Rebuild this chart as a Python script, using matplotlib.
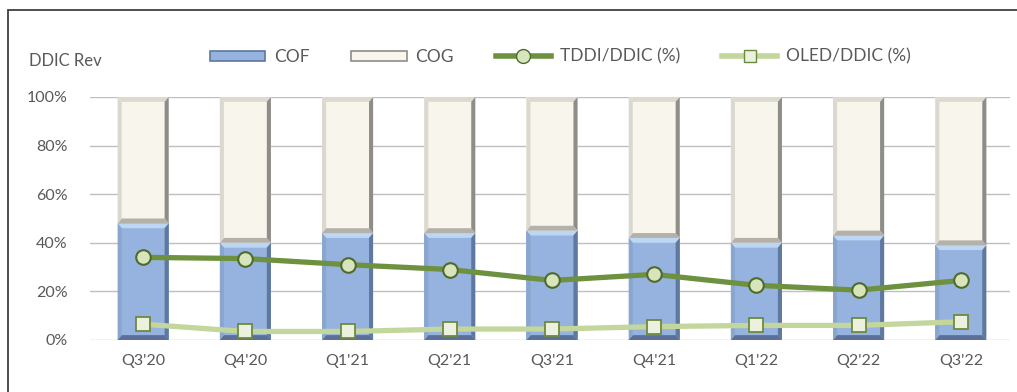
import numpy as np
import matplotlib.pyplot as plt
from matplotlib.patches import Polygon, Patch, Rectangle
from matplotlib.lines import Line2D

plt.rcParams['font.family'] = ['Lato', 'DejaVu Sans']

quarters = ["Q3'20", "Q4'20", "Q1'21", "Q2'21", "Q3'21", "Q4'21", "Q1'22", "Q2'22", "Q3'22"]
cof = [48, 40, 44, 44, 45, 42, 40, 43, 39]
cog = [100 - v for v in cof]
tddi = [34, 33.5, 31, 29, 24.5, 27, 22.5, 20.5, 24.5]
oled = [6.5, 3.5, 3.5, 4.5, 4.5, 5.5, 6, 6, 7.5]

txt = '#595959'
grid = '#BFBFBF'


def bevel(ax, rect, face, top, bottom, left, right, bx=0.04, by=2.0):
    # draw a flat bar with four shaded edges so it looks raised
    x0, y0 = rect.get_x(), rect.get_y()
    x1, y1 = x0 + rect.get_width(), y0 + rect.get_height()
    pieces = [
        ([(x0, y1), (x1, y1), (x1 - bx, y1 - by), (x0 + bx, y1 - by)], top),
        ([(x0, y0), (x1, y0), (x1 - bx, y0 + by), (x0 + bx, y0 + by)], bottom),
        ([(x0, y0), (x0, y1), (x0 + bx, y1 - by), (x0 + bx, y0 + by)], left),
        ([(x1, y0), (x1, y1), (x1 - bx, y1 - by), (x1 - bx, y0 + by)], right),
    ]
    rect.set_facecolor(face)
    for pts, c in pieces:
        ax.add_patch(Polygon(pts, closed=True, facecolor=c, edgecolor='none',
                             zorder=rect.get_zorder() + 0.1, clip_on=False))


fig = plt.figure(figsize=(10.17, 3.92), dpi=100)
ax = fig.add_axes([0.0885, 0.1327, 0.9045, 0.6199])

x = np.arange(len(quarters))
w = 0.5
b1 = ax.bar(x, cof, w, zorder=2, linewidth=0)
b2 = ax.bar(x, cog, w, bottom=cof, zorder=2, linewidth=0)
for r in b1:
    bevel(ax, r, '#95B3DE', '#BCD6F3', '#5A709A', '#8AA6CF', '#5F789F')
for r in b2:
    bevel(ax, r, '#F8F6EC', '#DCD9CF', '#B3B1A9', '#DAD8CF', '#8E8D88')

ax.plot(x, tddi, color='#6E9140', lw=3.8, marker='o', ms=10.5,
        mfc='#D8E4BC', mec='#4F6B2A', mew=1.5, zorder=4)
ax.plot(x, oled, color='#C3D69B', lw=3.8, marker='s', ms=9.5,
        mfc='#EBF1DE', mec='#6E8A3E', mew=1.3, zorder=4)

ax.set_xlim(-0.52, 8.48)
ax.set_ylim(0, 100)
ax.set_yticks(range(0, 101, 20))
ax.set_yticklabels([f'{v}%' for v in range(0, 101, 20)])
ax.set_xticks(x)
ax.set_xticklabels(quarters)
ax.tick_params(length=0, colors=txt, labelsize=11.5)
ax.tick_params(axis='x', pad=10)
ax.tick_params(axis='y', pad=16)
ax.grid(axis='y', color=grid, lw=1, zorder=0)
ax.set_axisbelow(True)
for s in ax.spines.values():
    s.set_visible(False)

fig.text(0.029, 0.845, 'DDIC Rev', color=txt, fontsize=12, va='center')

handles = [
    Patch(facecolor='#95B3DE', edgecolor='#5F789F', lw=1.2),
    Patch(facecolor='#F8F6EC', edgecolor='#8E8D88', lw=1.2),
    Line2D([], [], color='#6E9140', lw=4, marker='o', ms=10, mfc='#D8E4BC', mec='#4F6B2A'),
    Line2D([], [], color='#C3D69B', lw=4, marker='s', ms=9, mfc='#EBF1DE', mec='#6E8A3E'),
]
labels = ['COF', 'COG', 'TDDI/DDIC (%)', 'OLED/DDIC (%)']
fig.legend(handles, labels, loc='center', bbox_to_anchor=(0.551, 0.855), ncol=4,
           frameon=False, fontsize=12.5, labelcolor=txt, handlelength=3.2,
           handleheight=0.5, columnspacing=2.4, handletextpad=0.5)

# outer frame on the left and top
fig.add_artist(Rectangle((0.008, -0.1), 1.2, 1.075, transform=fig.transFigure,
                         fill=False, edgecolor='#404040', lw=1.3))

fig.savefig('out.png', dpi=100)
